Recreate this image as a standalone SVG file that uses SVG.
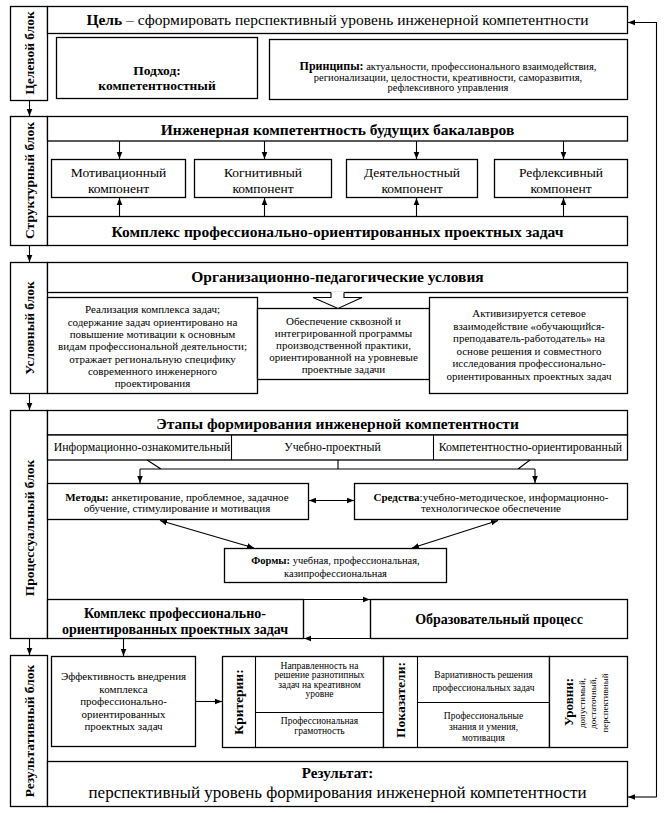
<svg xmlns="http://www.w3.org/2000/svg" width="665" height="813" viewBox="0 0 665 813">
<defs>
<style>
.b{fill:#fff;stroke:#000;stroke-width:1.3}
.l{fill:none;stroke:#000;stroke-width:1.1}
.a{fill:none;stroke:#000;stroke-width:1.1;marker-end:url(#ah)}
.d{fill:none;stroke:#000;stroke-width:1.1;marker-start:url(#ah);marker-end:url(#ah)}
text{font-family:"Liberation Serif","Times New Roman",serif;fill:#000;text-anchor:middle}
.lab{font-weight:bold;font-size:13.5px}
.h{font-weight:bold;font-size:15.5px}
.cmp{font-size:13.5px}
.t11{font-size:11px}
.st{font-size:11.8px}
.t9{font-size:9.5px}
.k{font-weight:bold}
</style>
<marker id="ah" viewBox="0 0 10 10" refX="10" refY="5" markerWidth="7" markerHeight="7" markerUnits="userSpaceOnUse" orient="auto-start-reverse"><path d="M0,1 L10,5 L0,9 z" fill="#000"/></marker>
</defs>
<rect width="665" height="813" fill="#fff"/>

<!-- Target block -->
<g id="target-label"><rect class="b" x="10.5" y="6.5" width="37" height="94"/><text class="lab" transform="translate(34,53) rotate(-90)">Целевой блок</text></g>
<g id="goal"><rect class="b" x="47.5" y="6.5" width="580" height="27"/><text x="337.5" y="25" font-size="15.5px"><tspan class="k">Цель</tspan> – сформировать перспективный уровень инженерной компетентности</text></g>
<g id="approach"><rect class="b" x="56.5" y="37.5" width="201" height="61"/><text class="k" font-size="13.5px"><tspan x="157" y="75">Подход:</tspan><tspan x="157" y="90">компетентностный</tspan></text></g>
<g id="principles"><rect class="b" x="269.5" y="39.5" width="358" height="60"/><text font-size="10.5px"><tspan x="448" y="70"><tspan class="k" font-size="12px">Принципы:</tspan> актуальности, профессионального взаимодействия,</tspan><tspan x="448" y="80.5">регионализации, целостности, креативности, саморазвития,</tspan><tspan x="448" y="91">рефлексивного управления</tspan></text></g>

<!-- Structural block -->
<g id="struct-label"><rect class="b" x="10.5" y="116.5" width="37" height="129"/><text class="lab" transform="translate(34,180.5) rotate(-90)">Структурный блок</text></g>
<g id="eng-comp"><rect class="b" x="47.5" y="116.5" width="580" height="24.5"/><text class="h" x="337.5" y="134.5">Инженерная компетентность будущих бакалавров</text></g>
<g id="comp-motiv"><rect class="b" x="51.5" y="159.5" width="134" height="38"/><text class="cmp"><tspan x="118.5" y="176.5">Мотивационный</tspan><tspan x="118.5" y="192.5">компонент</tspan></text></g>
<g id="comp-cogn"><rect class="b" x="194.5" y="159.5" width="137" height="38"/><text class="cmp"><tspan x="263" y="176.5">Когнитивный</tspan><tspan x="263" y="192.5">компонент</tspan></text></g>
<g id="comp-act"><rect class="b" x="346.5" y="159.5" width="131" height="38"/><text class="cmp"><tspan x="412" y="176.5">Деятельностный</tspan><tspan x="412" y="192.5">компонент</tspan></text></g>
<g id="comp-refl"><rect class="b" x="494.5" y="159.5" width="133" height="38"/><text class="cmp"><tspan x="561" y="176.5">Рефлексивный</tspan><tspan x="561" y="192.5">компонент</tspan></text></g>
<g id="complex1"><rect class="b" x="47.5" y="216.5" width="580" height="29"/><text class="h" x="337.5" y="236.5">Комплекс профессионально-ориентированных проектных задач</text></g>

<!-- Conditional block -->
<g id="cond-label"><rect class="b" x="10.5" y="262.5" width="37" height="131"/><text class="lab" transform="translate(34,328) rotate(-90)">Условный блок</text></g>
<g id="org-cond"><rect class="b" x="47.5" y="262.5" width="580" height="30"/><text class="h" x="337.5" y="282">Организационно-педагогические условия</text></g>
<g id="cond-left"><rect class="b" x="47.5" y="297.5" width="210" height="96"/><text class="t11"><tspan x="152.5" y="313.3">Реализация комплекса задач;</tspan><tspan x="152.5" y="325.6">содержание задач ориентировано на</tspan><tspan x="152.5" y="337.9">повышение мотивации к основным</tspan><tspan x="152.5" y="350.2">видам профессиональной деятельности;</tspan><tspan x="152.5" y="362.5">отражает региональную специфику</tspan><tspan x="152.5" y="374.8">современного инженерного</tspan><tspan x="152.5" y="387.1">проектирования</tspan></text></g>
<g id="cond-mid"><rect class="b" x="257.5" y="308.5" width="172" height="71"/><text class="t11"><tspan x="343.5" y="324.8">Обеспечение сквозной и</tspan><tspan x="343.5" y="336.8">интегрированной программы</tspan><tspan x="343.5" y="348.8">производственной практики,</tspan><tspan x="343.5" y="360.8">ориентированной на уровневые</tspan><tspan x="343.5" y="372.8">проектные задачи</tspan></text></g>
<g id="cond-right"><rect class="b" x="429.5" y="297.5" width="198" height="96"/><text class="t11"><tspan x="529" y="317">Активизируется сетевое</tspan><tspan x="529" y="329.6">взаимодействие «обучающийся-</tspan><tspan x="529" y="342.2">преподаватель-работодатель» на</tspan><tspan x="529" y="354.8">основе решения и совместного</tspan><tspan x="529" y="367.4">исследования профессионально-</tspan><tspan x="529" y="380">ориентированных проектных задач</tspan></text></g>

<!-- Process block -->
<g id="proc-label"><rect class="b" x="10.5" y="410.5" width="37" height="228"/><text class="lab" transform="translate(34,528) rotate(-90)">Процессуальный блок</text></g>
<g id="stages"><rect class="b" x="47.5" y="410.5" width="580" height="24.5"/><text class="h" x="337.5" y="428.5">Этапы формирования инженерной компетентности</text></g>
<g id="stage-row"><rect class="b" x="47.5" y="435" width="580" height="25"/><path class="l" d="M231.5,435 V460 M433.5,435 V460"/><text class="st" x="142" y="451">Информационно-ознакомительный</text><text class="st" x="332.5" y="451">Учебно-проектный</text><text class="st" x="530.5" y="451">Компетентностно-ориентированный</text></g>
<g id="methods"><rect class="b" x="47.5" y="483.5" width="261" height="36"/><text class="t11"><tspan x="177" y="500.5"><tspan class="k">Методы:</tspan> анкетирование, проблемное, задачное</tspan><tspan x="177" y="512.2">обучение, стимулирование и мотивация</tspan></text></g>
<g id="tools"><rect class="b" x="354.5" y="483.5" width="273" height="36"/><text class="t11"><tspan x="491" y="500.5"><tspan class="k">Средства</tspan>:учебно-методическое, информационно-</tspan><tspan x="491" y="512.2">технологическое обеспечение</tspan></text></g>
<g id="forms"><rect class="b" x="224.5" y="548.5" width="222" height="34"/><text font-size="10.5px"><tspan x="335.5" y="564"><tspan class="k">Формы:</tspan> учебная, профессиональная,</tspan><tspan x="335.5" y="577">казипрофессиональная</tspan></text></g>
<g id="complex2"><rect class="b" x="47.5" y="599.5" width="256" height="39"/><text class="k" font-size="14px"><tspan x="175" y="617.5">Комплекс профессионально-</tspan><tspan x="175" y="633.5">ориентированных проектных задач</tspan></text></g>
<g id="edu-process"><rect class="b" x="370.5" y="599.5" width="257" height="39"/><text class="k" font-size="14px" x="499" y="624">Образовательный процесс</text></g>

<!-- Result block -->
<g id="res-label"><rect class="b" x="10.5" y="655.5" width="37" height="151"/><text class="lab" transform="translate(34,731) rotate(-90)">Результативный блок</text></g>
<g id="efficiency"><rect class="b" x="51.5" y="656.5" width="144" height="90"/><text class="t11"><tspan x="123.5" y="680">Эффективность внедрения</tspan><tspan x="123.5" y="692.5">комплекса</tspan><tspan x="123.5" y="705">профессионально-</tspan><tspan x="123.5" y="717.5">ориентированных</tspan><tspan x="123.5" y="730">проектных задач</tspan></text></g>
<g id="criteria"><rect class="b" x="222.5" y="656.5" width="161" height="91"/><path class="l" d="M255.5,656.5 V747.5 M255.5,712.5 H383.5"/><text class="lab" transform="translate(242.5,702) rotate(-90)">Критерии:</text><text class="t9"><tspan x="319.5" y="668.5">Направленность  на</tspan><tspan x="319.5" y="678">решение  разнотипных</tspan><tspan x="319.5" y="687.5">задач  на  креативном</tspan><tspan x="319.5" y="697">уровне</tspan><tspan x="319.5" y="723.5">Профессиональная</tspan><tspan x="319.5" y="733.5">грамотность</tspan></text></g>
<g id="indicators"><rect class="b" x="383.5" y="656.5" width="166" height="91"/><path class="l" d="M417.5,656.5 V747.5 M417.5,702.5 H549.5"/><text class="lab" transform="translate(405,700) rotate(-90)">Показатели:</text><text class="t9"><tspan x="483.5" y="677.5">Вариативность  решения</tspan><tspan x="483.5" y="690.5">профессиональных  задач</tspan><tspan x="483.5" y="718.5">Профессиональные</tspan><tspan x="483.5" y="729.5">знания  и  умения,</tspan><tspan x="483.5" y="740.5">мотивация</tspan></text></g>
<g id="levels"><rect class="b" x="549.5" y="656.5" width="78" height="91"/><text class="k" font-size="13px" transform="translate(572.5,702) rotate(-90)">Уровни:</text><text font-size="9px" transform="translate(585,703) rotate(-90)">допустимый,</text><text font-size="9px" transform="translate(596,703) rotate(-90)">достаточный,</text><text font-size="9px" transform="translate(608,703) rotate(-90)">перспективный</text></g>
<g id="result"><rect class="b" x="47.5" y="761.5" width="580" height="45"/><text class="k" font-size="15px" x="337.5" y="778">Результат:</text><text font-size="17px" x="337.5" y="797.5">перспективный уровень формирования инженерной компетентности</text></g>

<!-- Connectors -->
<g id="connectors">
<path class="a" d="M29.5,100.5 V116"/>
<path class="a" d="M29.5,245.5 V262"/>
<path class="a" d="M29.5,393.5 V410"/>
<path class="a" d="M29.5,638.5 V655"/>
<path class="a" d="M123.5,638.5 V656"/>
<path class="a" d="M119.5,141 V159"/>
<path class="a" d="M264.5,141 V159"/>
<path class="a" d="M416.5,141 V159"/>
<path class="a" d="M563.5,141 V159"/>
<path class="a" d="M119.5,216.5 V198"/>
<path class="a" d="M264.5,216.5 V198"/>
<path class="a" d="M416.5,216.5 V198"/>
<path class="a" d="M563.5,216.5 V198"/>
<polygon points="331,291.5 344,291.5 344,297.5 362,297.5 338,308.5 313,297.5 331,297.5" fill="#fff"/>
<polyline class="l" points="331,292.5 331,297.5 313,297.5 338,308.5 362,297.5 344,297.5 344,292.5"/>
<path class="l" d="M147,460 L161,469 M338,460 V469 M530,460 L518,469 M140,469 H535"/>
<path class="a" d="M140,469 V483"/>
<path class="a" d="M535,469 V483"/>
<path class="d" d="M309,500.5 H354"/>
<path class="d" d="M160,520.5 L254,548"/>
<path class="d" d="M498,520.5 L412,548"/>
<path class="l" d="M303.5,599.5 V638.5 M370.5,599.5 V638.5"/>
<path class="a" d="M303.5,599.5 H370"/>
<path class="a" d="M370.5,638.5 H304"/>
<path class="a" d="M195.5,701.5 H222"/>
<path class="a" d="M656.5,797 H628"/>
<path class="a" d="M656.5,797 V22.5 H628"/>
</g>
</svg>
